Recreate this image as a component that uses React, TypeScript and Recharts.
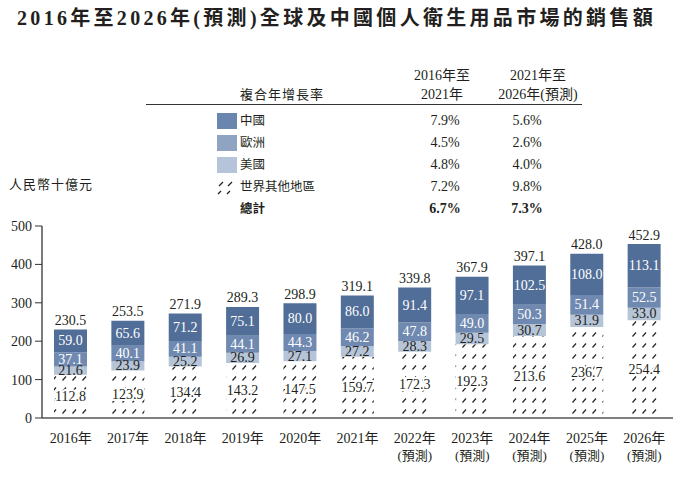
import { Bar, BarChart, LabelList, XAxis, YAxis } from "recharts";

const categories = [
  "2016年", "2017年", "2018年", "2019年", "2020年", "2021年",
  "2022年(預測)", "2023年(預測)", "2024年(預測)", "2025年(預測)", "2026年(預測)",
];
const otherRegions = [112.8, 123.9, 134.4, 143.2, 147.5, 159.7, 172.3, 192.3, 213.6, 236.7, 254.4];
const usa = [21.6, 23.9, 25.2, 26.9, 27.1, 27.2, 28.3, 29.5, 30.7, 31.9, 33.0];
const europe = [37.1, 40.1, 41.1, 44.1, 44.3, 46.2, 47.8, 49.0, 50.3, 51.4, 52.5];
const china = [59.0, 65.6, 71.2, 75.1, 80.0, 86.0, 91.4, 97.1, 102.5, 108.0, 113.1];
const totals = [230.5, 253.5, 271.9, 289.3, 298.9, 319.1, 339.8, 367.9, 397.1, 428.0, 452.9];
const yTicks = [0, 100, 200, 300, 400, 500];

const legendNames = ["中國", "歐洲", "美國", "世界其他地區", "總計"];
const cagrPast = ["7.9%", "4.5%", "4.8%", "7.2%", "6.7%"];
const cagrForecast = ["5.6%", "2.6%", "4.0%", "9.8%", "7.3%"];

const FONT = "'Liberation Serif', 'Noto Sans CJK TC', serif";
const INK = "#231f20";
const barColors = { china: "#516e98", europe: "#6f89b0", us: "#b6c4d8" };
const swatchColors = ["#6a86ae", "#8fa4c3", "#b6c4d9"];

const data = categories.map((name, i) => ({
  name,
  other: otherRegions[i],
  us: usa[i],
  europe: europe[i],
  china: china[i],
  total: totals[i],
}));

const fmt = (v: number) => v.toFixed(1);

function segLabel(color: string, halo = false) {
  return (p: any) => (
    <text
      x={p.x + p.width / 2}
      y={p.y + p.height / 2}
      textAnchor="middle"
      dominantBaseline="central"
      fill={color}
      fontSize={14}
      fontFamily={FONT}
      stroke={halo ? "#fff" : "none"}
      strokeWidth={halo ? 4 : 0}
      paintOrder="stroke"
    >
      {fmt(Number(p.value))}
    </text>
  );
}

function totalLabel(p: any) {
  return (
    <text
      x={p.x + p.width / 2}
      y={p.y - 9}
      textAnchor="middle"
      dominantBaseline="central"
      fill={INK}
      fontSize={14}
      fontFamily={FONT}
    >
      {fmt(Number(p.value))}
    </text>
  );
}

function XTick(props: any) {
  const { x, y, payload } = props;
  const [year, rest] = String(payload.value).split("(");
  return (
    <g>
      <text x={x} y={y + 12} textAnchor="middle" dominantBaseline="central" fill={INK} fontSize={14} fontFamily={FONT}>
        {year}
      </text>
      {rest && (
        <text x={x} y={y + 29} textAnchor="middle" dominantBaseline="central" fill={INK} fontSize={13} fontFamily={FONT}>
          {"(" + rest}
        </text>
      )}
    </g>
  );
}

const abs = (left: number, top: number, extra: any = {}) => ({
  position: "absolute" as const,
  left,
  top,
  whiteSpace: "nowrap" as const,
  fontFamily: FONT,
  color: INK,
  ...extra,
});

function HatchSwatch() {
  return (
    <svg width={20} height={16} style={{ display: "block" }}>
      <line x1={2} y1={7} x2={6} y2={3} stroke="#222" strokeWidth={1.2} />
      <line x1={11} y1={7} x2={15} y2={3} stroke="#222" strokeWidth={1.2} />
      <line x1={1} y1={15} x2={4} y2={12} stroke="#222" strokeWidth={1.2} />
      <line x1={10} y1={15} x2={13} y2={12} stroke="#222" strokeWidth={1.2} />
    </svg>
  );
}

export default function App() {
  const rowY = [121, 143, 165, 187, 209];
  return (
    <div style={{ position: "absolute", left: 0, top: 0, width: 699, height: 479, background: "#fff", overflow: "hidden" }}>
      <div style={abs(0, 6, { width: 673, textAlign: "center", fontSize: 20, fontWeight: 700, letterSpacing: 3.3, lineHeight: "24px" })}>
        2016年至2026年(預測)全球及中國個人衛生用品市場的銷售額
      </div>

      <div style={abs(240, 86, { fontSize: 13, letterSpacing: 1, lineHeight: "18px" })}>複合年增長率</div>
      <div style={abs(392, 66, { width: 100, textAlign: "center", fontSize: 14, lineHeight: "19px" })}>
        2016年至
        <br />
        2021年
      </div>
      <div style={abs(478, 66, { width: 120, textAlign: "center", fontSize: 14, lineHeight: "19px" })}>
        2021年至
        <br />
        2026年(預測)
      </div>
      <div style={{ position: "absolute", left: 146, top: 104, width: 436, height: 1, background: "#333" }} />

      {legendNames.map((name, i) => (
        <div key={name}>
          {i < 3 && (
            <div style={{ position: "absolute", left: 217, top: rowY[i] - 8, width: 20, height: 16, background: swatchColors[i] }} />
          )}
          {i === 3 && (
            <div style={{ position: "absolute", left: 217, top: rowY[i] - 8 }}>
              <HatchSwatch />
            </div>
          )}
          <div style={abs(240, rowY[i] - 9, { fontSize: 12.5, lineHeight: "18px", fontWeight: i === 4 ? 700 : 400 })}>{name}</div>
          <div style={abs(405, rowY[i] - 9, { width: 80, textAlign: "center", fontSize: 14, lineHeight: "18px", fontWeight: i === 4 ? 700 : 400 })}>
            {cagrPast[i]}
          </div>
          <div style={abs(487, rowY[i] - 9, { width: 80, textAlign: "center", fontSize: 14, lineHeight: "18px", fontWeight: i === 4 ? 700 : 400 })}>
            {cagrForecast[i]}
          </div>
        </div>
      ))}

      <div style={abs(9, 176, { fontSize: 13, letterSpacing: 1, lineHeight: "18px" })}>人民幣十億元</div>

      <div style={{ position: "absolute", left: 0, top: 0 }}>
        <BarChart width={699} height={479} data={data} margin={{ top: 226, right: 26, bottom: 0, left: 0 }} barSize={33}>
          <defs>
            <pattern id="hatch" patternUnits="userSpaceOnUse" width={10} height={11}>
              <rect width={10} height={11} fill="#fff" />
              <line x1={2.5} y1={6.5} x2={6} y2={2.5} stroke="#222" strokeWidth={1.2} />
            </pattern>
          </defs>
          <XAxis dataKey="name" axisLine={{ stroke: "#555", strokeWidth: 1.3 }} tickLine={false} height={61} tick={<XTick />} interval={0} />
          <YAxis
            domain={[0, 500]}
            ticks={yTicks}
            width={42}
            axisLine={{ stroke: "#333", strokeWidth: 1.3 }}
            tickLine={{ stroke: "#333" }}
            tickSize={7}
            tickMargin={3}
            tick={{ fill: INK, fontSize: 14, fontFamily: FONT }}
          />
          <Bar dataKey="other" stackId="a" fill="url(#hatch)" isAnimationActive={false}>
            <LabelList dataKey="other" content={segLabel(INK, true)} />
          </Bar>
          <Bar dataKey="us" stackId="a" fill={barColors.us} isAnimationActive={false}>
            <LabelList dataKey="us" content={segLabel(INK)} />
          </Bar>
          <Bar dataKey="europe" stackId="a" fill={barColors.europe} isAnimationActive={false}>
            <LabelList dataKey="europe" content={segLabel("#fff")} />
          </Bar>
          <Bar dataKey="china" stackId="a" fill={barColors.china} isAnimationActive={false}>
            <LabelList dataKey="china" content={segLabel("#fff")} />
            <LabelList dataKey="total" content={totalLabel} />
          </Bar>
        </BarChart>
      </div>
    </div>
  );
}
